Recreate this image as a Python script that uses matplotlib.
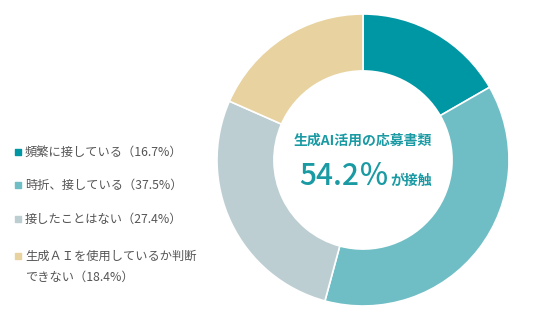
import matplotlib
matplotlib.use('Agg')
import matplotlib.pyplot as plt

plt.rcParams['font.family'] = ['Noto Sans CJK JP', 'DejaVu Sans']

labels = ['頻繁に接している（16.7%）',
          '時折、接している（37.5%）',
          '接したことはない（27.4%）',
          '生成ＡＩを使用しているか判断\nできない（18.4%）']
values = [16.7, 37.5, 27.4, 18.4]
colors = ['#0097a4', '#6fbec5', '#bdced3', '#e8d3a0']
center_title = '生成AI活用の応募書類'
center_value = '54.2％'
center_suffix = 'が接触'

W, H = 536, 321
fig = plt.figure(figsize=(W / 100, H / 100), dpi=100)

# donut, center (363,160), radius 146 px
cx, cy, r = 363, 160, 146
ax = fig.add_axes([(cx - r) / W, (H - cy - r) / H, 2 * r / W, 2 * r / H])
ax.pie(values, colors=colors, startangle=90, counterclock=False, radius=1,
       wedgeprops=dict(width=0.39, edgecolor='white', linewidth=1.2))
ax.set_xlim(-1, 1)
ax.set_ylim(-1, 1)
ax.set_aspect('equal')
ax.axis('off')

tc = '#1a9aa3'
ax.text(0, 0.135, center_title, ha='center', va='center', fontsize=10,
        fontweight='bold', color=tc)
ax.text(-0.44, -0.171, center_value, ha='left', va='baseline', fontsize=21.5,
        fontweight='medium', color=tc)
ax.text(0.19, -0.171, center_suffix, ha='left', va='baseline', fontsize=10,
        fontweight='bold', color=tc)

# legend drawn in pixel coords
lax = fig.add_axes([0, 0, 1, 1])
lax.set_xlim(0, W)
lax.set_ylim(H, 0)
lax.axis('off')
rows_y = [152, 185, 219, 256]
for y, lab, c in zip(rows_y, labels, colors):
    lax.scatter([18], [y], marker='s', s=14, color=c)
    lines = lab.split('\n')
    for i, line in enumerate(lines):
        lax.text(25, y + 21 * i, line, ha='left', va='center', fontsize=8.8,
                 color='#555555')

fig.savefig('out.png', dpi=100)
